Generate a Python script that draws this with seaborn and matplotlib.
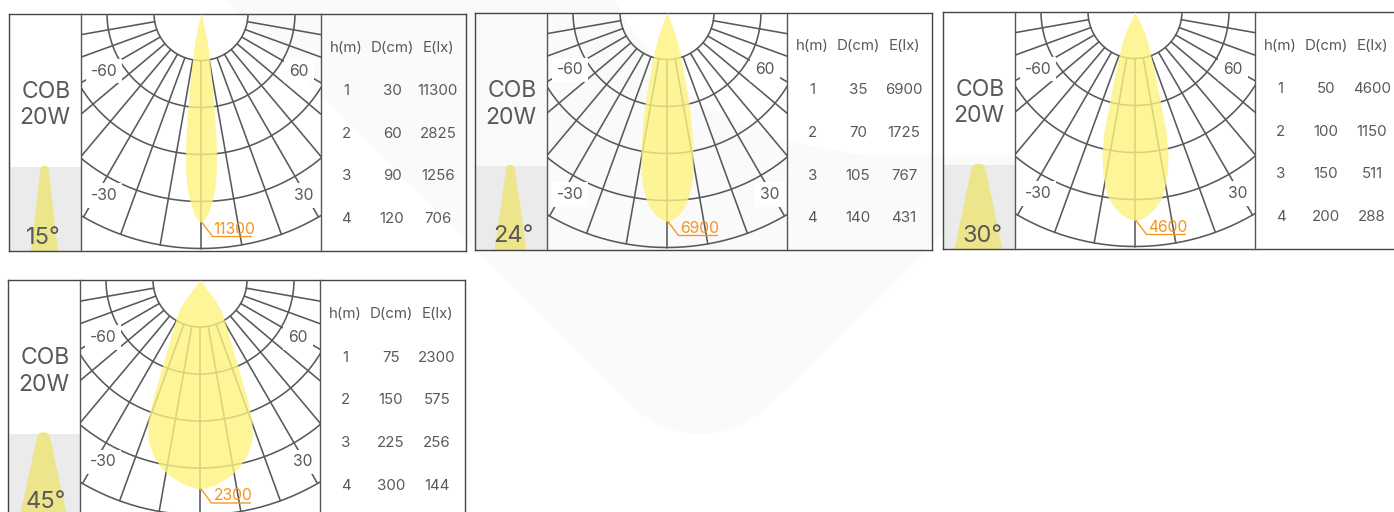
import numpy as np
import pandas as pd
import matplotlib
matplotlib.use('Agg')
import matplotlib.pyplot as plt
import seaborn as sns

W, H = 1394, 512

# data
beam_angles = ['15°', '24°', '30°', '45°']
peak_lux = ['11300', '6900', '4600', '2300']
table_h = ['1', '2', '3', '4']
table_d = [['30', '60', '90', '120'], ['35', '70', '105', '140'],
           ['50', '100', '150', '200'], ['75', '150', '225', '300']]
table_e = [['11300', '2825', '1256', '706'], ['6900', '1725', '767', '431'],
           ['4600', '1150', '511', '288'], ['2300', '575', '256', '144']]

# beam outlines: half width (px) at each depth below the lamp
depths = [0, 10, 20, 30, 46, 70, 94, 120, 141, 160, 175, 188, 196, 202, 206, 208, 209]
half_15 = [0, 2.5, 4.5, 6.5, 8.5, 11, 13, 14.8, 15.5, 15.3, 13.8, 11, 8.5, 6, 3.5, 1.5, 0]
half_24 = [0, 4, 7.5, 10.5, 14, 18.5, 22.5, 25, 26, 26, 24, 20.5, 16.5, 11.5, 7, 3, 0]
half_30 = [0, 4.5, 9, 12.5, 16.3, 21.5, 26, 31, 33, 32.5, 30, 26, 20.5, 14.5, 9, 4, 0]
half_45 = [0, 7.5, 15, 21, 26, 33, 40, 47.5, 52, 52, 47, 38.5, 30, 20, 12, 5, 0]
beam_half = [half_15, half_24, half_30, half_45]

# small cone in the left column: width at top and at base
cone_top = [8, 8.5, 13, 12]
cone_base = [27, 32, 48, 48]
angle_x = [34, 38, 40, 38]
angle_y = [224, 224, 224, 222]

ring_radii = [47, 94, 141, 188, 235]
spoke_angles = [-80, -70, -60, -50, -40, -30, -20, -10, 0, 10, 20, 30, 40, 50, 60, 70, 80]

# faint watermark behind everything
mark_x = [225, 625, 640, 660, 680, 700, 720, 740, 760, 775, 1023, 860, 780, 700, 653, 627, 615]
mark_y = [0, 400, 414, 426, 432, 434, 432, 426, 414, 400, 155, 155, 140, 103, 57, 23, 0]

# frame corners of the panels
panel_x = [9, 475, 943, 8]
panel_y = [13.5, 12.5, 11.5, 280]
PW, PH = 457, 237.5

GREY = '#58595b'
ORANGE = '#f7941d'

sns.set_theme(style='white')
plt.rcParams['font.family'] = ['Inter', 'DejaVu Sans']
plt.rcParams['text.color'] = GREY


def px_axes(fig, x, y, w, h, zorder):
    ax = fig.add_axes([x / W, 1 - (y + h) / H, w / W, h / H], zorder=zorder)
    ax.patch.set_visible(False)
    ax.set_xticks([])
    ax.set_yticks([])
    ax.set_xlabel('')
    ax.set_ylabel('')
    return ax


def grid_frame():
    rows = []
    for i, r in enumerate(ring_radii):
        t = np.radians(np.linspace(-90, 90, 181))
        rows.append(pd.DataFrame({'x': r * np.sin(t), 'y': r * np.cos(t), 'line': 'r%d' % i}))
    for a in spoke_angles:
        t = np.radians(a)
        rr = np.array([ring_radii[0], ring_radii[-1]])
        rows.append(pd.DataFrame({'x': rr * np.sin(t), 'y': rr * np.cos(t), 'line': 's%d' % a}))
    return pd.concat(rows, ignore_index=True)


grid = grid_frame()

fig = plt.figure(figsize=(W / 100, H / 100), dpi=100, facecolor='white')

bg = px_axes(fig, 0, 0, W, H, 0)
bg.set_xlim(0, W)
bg.set_ylim(H, 0)
bg.axis('off')
bg.fill(mark_x, mark_y, color='#fafafa', lw=0)

for i in range(4):
    x0, y0 = panel_x[i], panel_y[i]

    # whole panel, in px relative to its corner
    ax = px_axes(fig, x0, y0, PW, PH, 1)
    ax.set_xlim(0, PW)
    ax.set_ylim(PH, 0)
    for s in ax.spines.values():
        s.set_visible(True)
        s.set_color('#444446')
        s.set_linewidth(1.0)

    ax.fill_between([0, 72], 153.5, PH, color='#ebebeb', lw=0)
    top, base = cone_top[i] / 2, cone_base[i] / 2
    cone_cx = 35.5
    ax.fill([cone_cx - base, cone_cx - top, cone_cx - top * 0.5, cone_cx + top * 0.5,
             cone_cx + top, cone_cx + base],
            [PH, 155, 152.5, 152.5, 155, PH], color='#ede58c', lw=0)
    ax.text(angle_x[i], angle_y[i], beam_angles[i], fontsize=17, ha='center', va='center')
    ax.text(37, 78.5, 'COB', fontsize=16.5, ha='center', va='center')
    ax.text(35.5, 105, '20W', fontsize=16.5, ha='center', va='center')

    # table
    ax.text(337.5, 34, 'h(m)', fontsize=10.8, ha='center', va='center')
    ax.text(383, 34, 'D(cm)', fontsize=10.8, ha='center', va='center')
    ax.text(429, 34, 'E(lx)', fontsize=10.8, ha='center', va='center')
    for j, row_y in enumerate([77.5, 120.5, 163, 205.5]):
        ax.text(337.5, row_y, table_h[j], fontsize=10.8, ha='center', va='center')
        ax.text(383, row_y, table_d[i][j], fontsize=10.8, ha='center', va='center')
        ax.text(429, row_y, table_e[i][j], fontsize=10.8, ha='center', va='center')

    # polar diagram, origin on the lamp
    pol = px_axes(fig, x0 + 72, y0, 240, PH, 2)
    sns.lineplot(data=grid, x='x', y='y', units='line', estimator=None, sort=False,
                 color=GREY, lw=1.15, legend=False, ax=pol)
    pol.set_xlim(-120, 120)
    pol.set_ylim(PH, 0)
    pol.set_xlabel('')
    pol.set_ylabel('')
    for name, s in pol.spines.items():
        s.set_visible(name in ('left', 'right'))
        s.set_color('#55565a')
        s.set_linewidth(1.0)

    half = np.array(beam_half[i])
    pol.fill_betweenx(depths, -half, half, color='#fdf37f', alpha=0.8, lw=0, zorder=3)

    for txt, tx, ty in [('-60', -97, 57.5), ('60', 98, 57.5), ('-30', -97, 182), ('30', 103, 182)]:
        pol.text(tx, ty, txt, fontsize=11.3, ha='center', va='center', zorder=4,
                 bbox=dict(fc='white', ec='none', pad=3.5))

    # peak value with its leader
    pol.plot([1, 11.5, 50.5], [209, 223, 223], color=ORANGE, lw=0.95, zorder=5)
    pol.text(33, 216, peak_lux[i], color=ORANGE, fontsize=11.3, ha='center', va='center', zorder=5)

fig.savefig('out.png', dpi=100)
